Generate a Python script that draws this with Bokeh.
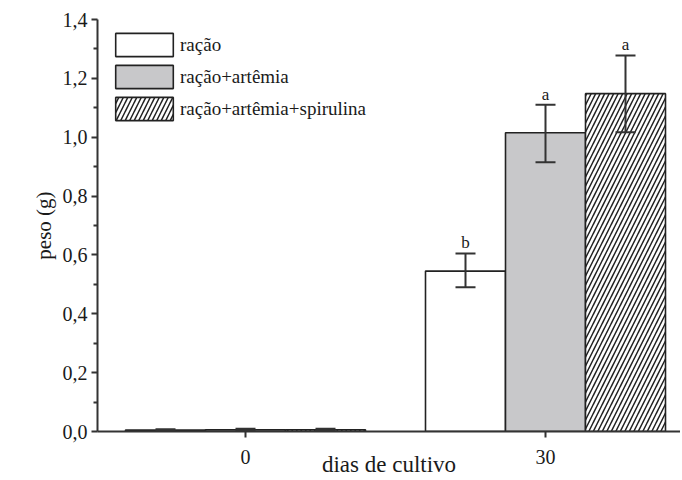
from bokeh.plotting import figure
from bokeh.models import (ColumnDataSource, Range1d, Whisker, TeeHead,
                          LabelSet, FixedTicker, Legend, LegendItem)
from bokeh.core.properties import value
from bokeh.embed import file_html
from bokeh.resources import INLINE

# ---------------- data ----------------
days = [0, 30]
series_names = ["ração", "ração+artêmia", "ração+artêmia+spirulina"]

racao = [0.005, 0.545]
racao_low = [0.002, 0.490]
racao_high = [0.008, 0.605]
racao_letters = ["", "b"]

artemia = [0.006, 1.015]
artemia_low = [0.003, 0.915]
artemia_high = [0.009, 1.110]
artemia_letters = ["", "a"]

spirulina = [0.006, 1.148]
spirulina_low = [0.003, 1.017]
spirulina_high = [0.009, 1.278]
spirulina_letters = ["", "a"]

y_ticks = [0.0, 0.2, 0.4, 0.6, 0.8, 1.0, 1.2, 1.4]
y_tick_labels = ["0,0", "0,2", "0,4", "0,6", "0,8", "1,0", "1,2", "1,4"]
x_tick_labels = ["0", "30"]

# ---------------- style ----------------
FONT = "Liberation Serif"
TXT = "#1a1a1a"
AX = "#333333"
BAR_W = 8
OFFSETS = [-BAR_W, 0, BAR_W]

p = figure(width=680, height=480, output_backend="svg", toolbar_location=None,
           x_range=Range1d(-14.8, 43.5), y_range=Range1d(0, 1.4),
           min_border_left=97, min_border_right=0, min_border_top=19,
           min_border_bottom=49)
p.outline_line_color = None
p.xgrid.visible = False
p.ygrid.visible = False
p.background_fill_color = "white"

styles = [
    dict(fill_color="white"),
    dict(fill_color="#c8c8ca"),
    dict(fill_color="white", hatch_pattern="/", hatch_color="#222222",
         hatch_scale=9, hatch_weight=1.5),
]
vals = [racao, artemia, spirulina]
lows = [racao_low, artemia_low, spirulina_low]
highs = [racao_high, artemia_high, spirulina_high]
letters = [racao_letters, artemia_letters, spirulina_letters]

items = []
for name, v, lo, hi, let, off, st in zip(series_names, vals, lows, highs,
                                          letters, OFFSETS, styles):
    src = ColumnDataSource(dict(x=[d + off for d in days], top=v,
                                lower=lo, upper=hi, letter=let))
    r = p.vbar(x="x", top="top", width=BAR_W, source=src,
               line_color="#222222", line_width=1.6, **st)
    items.append(LegendItem(label=name, renderers=[r]))
    w = Whisker(source=src, base="x", upper="upper", lower="lower",
                line_color=AX, line_width=2, level="overlay",
                upper_head=TeeHead(size=20, line_color=AX, line_width=2),
                lower_head=TeeHead(size=20, line_color=AX, line_width=2))
    p.add_layout(w)
    lbl = LabelSet(source=src, x="x", y="upper", text="letter", y_offset=1,
                   text_align="center", text_baseline="bottom",
                   text_font=value(FONT), text_font_size="17px",
                   text_color=TXT)
    p.add_layout(lbl)

legend = Legend(items=items, location="top_left", glyph_width=72,
                glyph_height=29, spacing=3, label_standoff=0, padding=1,
                margin=10, background_fill_alpha=0, border_line_alpha=0,
                label_text_font=FONT, label_text_font_size="19px",
                label_text_color=TXT, label_height=29)
p.add_layout(legend)

# y axis
p.yaxis.ticker = FixedTicker(ticks=y_ticks,
                             minor_ticks=[t + 0.1 for t in y_ticks[:-1]])
p.yaxis.major_label_overrides = {t: s for t, s in zip(y_ticks, y_tick_labels)}
p.yaxis.axis_label = "peso (g)"
p.yaxis.axis_label_standoff = 4

# x axis
p.xaxis.ticker = FixedTicker(ticks=days, minor_ticks=[])
p.xaxis.major_label_overrides = {d: s for d, s in zip(days, x_tick_labels)}
p.xaxis.axis_label = "dias de cultivo"
p.xaxis.axis_label_standoff = -15

for ax in (p.xaxis, p.yaxis):
    ax.axis_line_width = 2
    ax.axis_line_color = AX
    ax.major_tick_line_width = 2
    ax.major_tick_line_color = AX
    ax.minor_tick_line_width = 2
    ax.minor_tick_line_color = AX
    ax.major_tick_in = 0
    ax.major_tick_out = 6
    ax.minor_tick_in = 0
    ax.minor_tick_out = 4
    ax.major_label_text_font = FONT
    ax.major_label_text_font_size = "20px"
    ax.major_label_text_color = TXT
    ax.axis_label_text_font = FONT
    ax.axis_label_text_font_style = "normal"
    ax.axis_label_text_color = TXT
p.yaxis.axis_label_text_font_size = "21px"
p.xaxis.axis_label_text_font_size = "23px"
p.yaxis.major_label_standoff = 4
p.xaxis.major_label_standoff = 12

open("out.html", "w").write(file_html(p, INLINE))
